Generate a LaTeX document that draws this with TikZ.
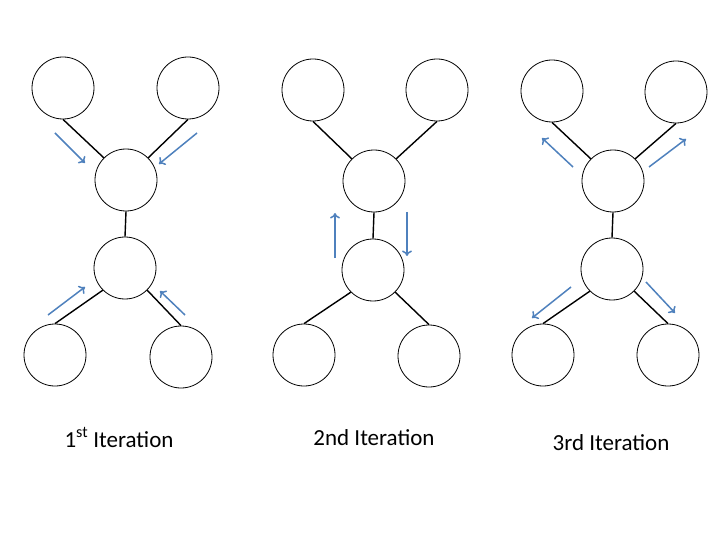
\documentclass[tikz,border=0pt]{standalone}
\usepackage{fontspec}
\setmainfont{Carlito}
\usepackage{tikz}
\usetikzlibrary{arrows.meta}
\definecolor{bleu}{RGB}{79,129,189}
\begin{document}
\begin{tikzpicture}[x=1pt,y=-1pt]
    \newcommand\lien[2]{\draw[e] (#1) -- (#2);}
    \newcommand\fleche[3]{\coordinate (#1a) at (#2); \coordinate (#1b) at (#3);
                          \draw[f] (#1a) -- (#1b);}
    \tikzstyle{state}=[circle,draw,line width=0.8pt,minimum size=62pt,inner sep=0pt]
    \tikzstyle{e}=[line width=1.4pt]
    \tikzstyle{f}=[draw=bleu,line width=1.5pt,-{To[length=5.5pt,width=10pt]}]
    \tikzstyle{lab}=[anchor=base,font=\fontsize{23}{27}\selectfont]
    \useasboundingbox (0,0) rectangle (720,540);
    % 1st iteration
    \node[state] at (63,88)   (tl1) {};
    \node[state] at (188,88)  (tr1) {};
    \node[state] at (126,180) (um1) {};
    \node[state] at (125,268) (lm1) {};
    \node[state] at (55,355)  (bl1) {};
    \node[state] at (181,357) (br1) {};
    % 2nd iteration
    \node[state] at (313,90)  (tl2) {};
    \node[state] at (437,90)  (tr2) {};
    \node[state] at (374,181) (um2) {};
    \node[state] at (373,270) (lm2) {};
    \node[state] at (304,355) (bl2) {};
    \node[state] at (429,356) (br2) {};
    % 3rd iteration
    \node[state] at (552,91)  (tl3) {};
    \node[state] at (676,92)  (tr3) {};
    \node[state] at (613,181) (um3) {};
    \node[state] at (612,269) (lm3) {};
    \node[state] at (543,355) (bl3) {};
    \node[state] at (668,355) (br3) {};
    \foreach \i in {1,2,3}{ % liens
      \lien{tl\i.south}{um\i.north west}\lien{tr\i.south}{um\i.north east}
      \lien{um\i.south}{lm\i.north}
      \lien{lm\i.south west}{bl\i.north}\lien{lm\i.south east}{br\i.north}
    }
    \fleche{a1}{55,133}{85,163}\fleche{a2}{197,133}{159,164} % vers le haut
    \fleche{a3}{48,315}{85,287}\fleche{a4}{185,315}{160,291}
    \fleche{b1}{335,258}{335,213}\fleche{b2}{407,212}{407,256}
    \fleche{c1}{573,167}{542,138}\fleche{c2}{649,167}{686,139} % vers le bas
    \fleche{c3}{571,287}{532,318}\fleche{c4}{646,282}{675,313}
    \node[lab] at (119,447) (t1) {1\textsuperscript{st} Iteration};
    \node[lab] at (374,445) (t2) {2nd Iteration};
    \node[lab] at (611,450) (t3) {3rd Iteration};
\end{tikzpicture}
\end{document}
